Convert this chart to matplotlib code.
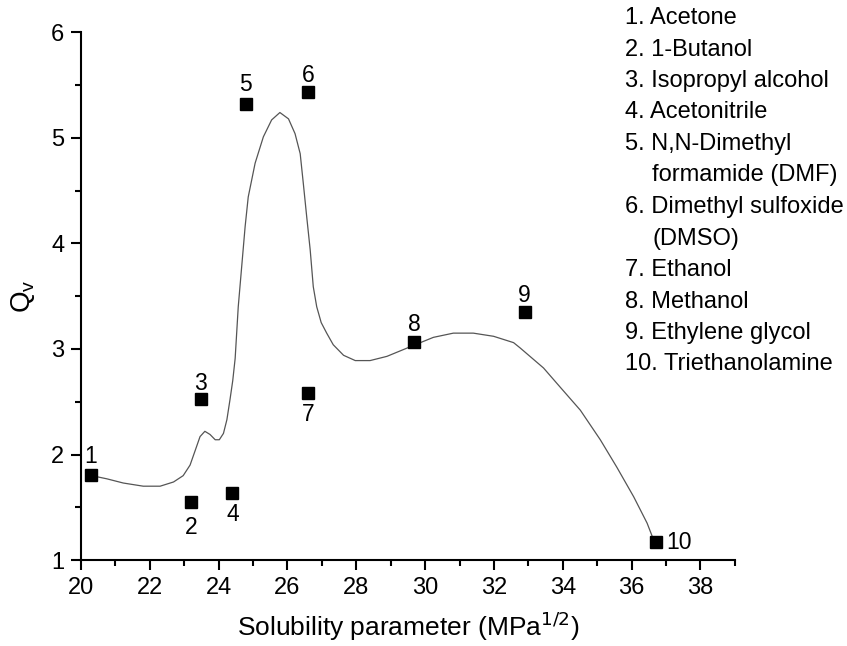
import matplotlib
matplotlib.use("Agg")
import matplotlib.pyplot as plt
from matplotlib.ticker import MultipleLocator

plt.rcParams['font.family'] = ['Liberation Sans', 'DejaVu Sans']

# Solvent data points
labels = ["1", "2", "3", "4", "5", "6", "7", "8", "9", "10"]
x_pts = [20.28, 23.19, 23.48, 24.40, 24.79, 26.60, 26.59, 29.69, 32.89, 36.72]
y_pts = [1.81, 1.55, 2.53, 1.64, 5.32, 5.43, 2.58, 3.07, 3.35, 1.17]
# label offsets (points) : dx, dy
lab_dx = [0, 0, 0, 0, 0, 0, 0, 0, 0, 16]
lab_dy = [13, -18, 11, -16, 14, 12, -15, 12, 12, 0]

# Guide curve
curve_x = [20.31, 20.75, 21.23, 21.81, 22.30, 22.69, 22.97, 23.17, 23.31, 23.46,
           23.60, 23.75, 23.90, 24.02, 24.14, 24.24, 24.33, 24.41, 24.48, 24.57,
           24.67, 24.77, 24.86, 25.06, 25.30, 25.54, 25.78, 26.03, 26.22, 26.37,
           26.46, 26.56, 26.66, 26.75, 26.85, 26.98, 27.14, 27.33, 27.63, 27.97,
           28.40, 28.89, 29.56, 30.24, 30.82, 31.40, 31.99, 32.57, 32.76, 33.44,
           33.92, 34.51, 35.09, 35.57, 36.06, 36.45, 36.64, 36.72]
curve_y = [1.80, 1.77, 1.73, 1.70, 1.70, 1.74, 1.80, 1.90, 2.03, 2.17,
           2.22, 2.19, 2.14, 2.14, 2.20, 2.33, 2.52, 2.70, 2.91, 3.40,
           3.78, 4.16, 4.44, 4.76, 5.01, 5.17, 5.24, 5.18, 5.04, 4.85,
           4.57, 4.25, 3.94, 3.59, 3.40, 3.25, 3.15, 3.04, 2.94, 2.89,
           2.89, 2.93, 3.02, 3.11, 3.15, 3.15, 3.12, 3.06, 3.01, 2.82,
           2.64, 2.42, 2.14, 1.88, 1.60, 1.35, 1.19, 1.17]

legend_lines = ["1. Acetone", "2. 1-Butanol", "3. Isopropyl alcohol", "4. Acetonitrile",
                "5. N,N-Dimethyl", "formamide (DMF)", "6. Dimethyl sulfoxide",
                "(DMSO)", "7. Ethanol", "8. Methanol", "9. Ethylene glycol",
                "10. Triethanolamine"]
legend_indent = [0, 0, 0, 0, 0, 1, 0, 1, 0, 0, 0, 0]

fig = plt.figure(figsize=(8.47, 6.46), dpi=100)
ax = fig.add_axes([0.0956, 0.133, 0.772, 0.817])

ax.plot(curve_x, curve_y, color='#555555', lw=0.9)
ax.plot(x_pts, y_pts, 's', color='black', markersize=8.5)
for lab, x, y, dx, dy in zip(labels, x_pts, y_pts, lab_dx, lab_dy):
    ax.annotate(lab, (x, y), xytext=(dx, dy), textcoords='offset points',
                ha='center', va='center', fontsize=16.5)

ax.set_xlim(20, 39)
ax.set_ylim(1, 6)
ax.xaxis.set_major_locator(MultipleLocator(2))
ax.xaxis.set_minor_locator(MultipleLocator(1))
ax.yaxis.set_major_locator(MultipleLocator(1))
ax.yaxis.set_minor_locator(MultipleLocator(0.5))
for s in ['top', 'right']:
    ax.spines[s].set_visible(False)
for s in ['left', 'bottom']:
    ax.spines[s].set_linewidth(1.5)
ax.tick_params(which='major', direction='out', length=7, width=1.5,
               labelsize=17, pad=5)
ax.tick_params(which='minor', direction='out', length=4.5, width=1.5)
ax.set_xlabel(r'Solubility parameter (MPa$^{1/2}$)', fontsize=19, labelpad=8)
ax.set_ylabel(r'Q$_\mathregular{v}$', fontsize=20, labelpad=10)

y0 = 18
for i, (line, ind) in enumerate(zip(legend_lines, legend_indent)):
    xpx = 652 if ind else 625
    fig.text(xpx / 847, 1 - (y0 + i * 31.5) / 646, line, fontsize=17,
             ha='left', va='center')

fig.savefig('out.png', dpi=100)
